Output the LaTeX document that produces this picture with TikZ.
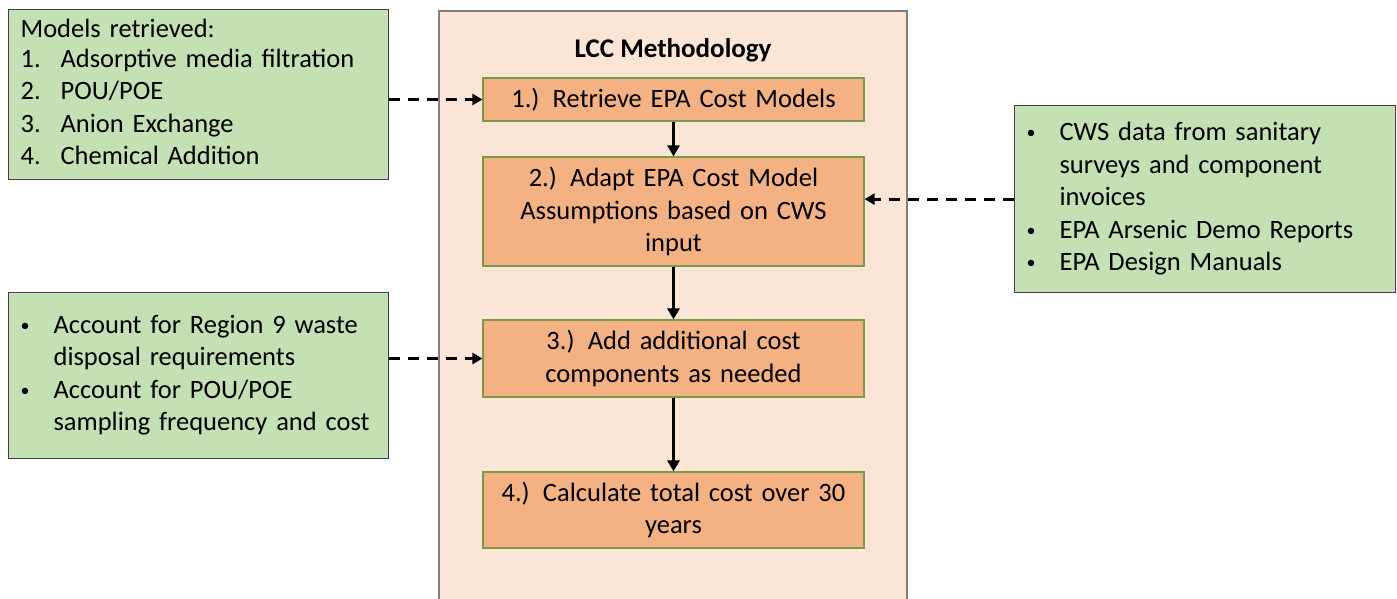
\documentclass[tikz,border=0pt]{standalone}
\usepackage{fontspec}
\setmainfont{Carlito}
\usetikzlibrary{arrows.meta}
\definecolor{greenfill}{HTML}{C5E0B4}
\definecolor{greenborder}{HTML}{404040}
\definecolor{orangefill}{HTML}{F4B183}
\definecolor{orangeborder}{HTML}{7A9A4A}
\definecolor{bigfill}{HTML}{FBE5D6}
\definecolor{bigborder}{HTML}{7F7F7F}
\newcommand{\smallbullet}{\raisebox{2pt}{\fontsize{18}{18}\selectfont •}}
\tikzset{
  greenbox/.style={draw=greenborder, fill=greenfill, line width=1.2pt, rectangle, inner xsep=12pt, inner ysep=0pt, align=left, font=\fontsize{26.5}{32.5}\selectfont},
  stepbox/.style={draw=orangeborder, fill=orangefill, line width=1.2pt, rectangle, minimum width=381pt, text width=370pt, align=center, inner sep=0pt, font=\fontsize{26.5}{32.5}\selectfont},
  flow/.style={line width=2.8pt, -{Triangle[length=11pt,width=12pt]}},
  feed/.style={line width=2.8pt, dash pattern=on 11pt off 8pt, -{Triangle[length=10pt,width=11pt]}}
}
\begin{document}
\begin{tikzpicture}[x=1pt,y=-1pt]
\useasboundingbox (0,0) rectangle (1397,598);
% container
\fill[bigfill] (439,11) rectangle (907,605);
\draw[bigborder, line width=1.2pt] (439,605) -- (439,11) -- (907,11) -- (907,605);
\node[font=\fontsize{27}{32}\selectfont\bfseries] (title) at (673,50) {LCC Methodology};
% steps
\node[stepbox, minimum height=43pt] (b1) at (673.5,99.5) {1.) Retrieve EPA Cost Models};
\node[stepbox, minimum height=109pt] (b2) at (673.5,211.5) {2.) Adapt EPA Cost Model\\Assumptions based on CWS\\input};
\node[stepbox, minimum height=77pt] (b3) at (673.5,358.5) {3.) Add additional cost\\components as needed};
\node[stepbox, minimum height=76pt] (b4) at (673.5,510) {4.) Calculate total cost over 30\\years};
% green boxes
\node[greenbox, text width=356pt, minimum height=170pt, anchor=north west] (g1) at (8,9) {%
\begin{tabular}{@{}l@{}}Models retrieved:\end{tabular}\\[-4pt]
\begin{tabular}{@{}p{40pt}@{}l@{}}
1. & Adsorptive media filtration\\
2. & POU/POE\\
3. & Anion Exchange\\
4. & Chemical Addition
\end{tabular}};
\node[greenbox, text width=357pt, minimum height=187pt, anchor=north west] (g2) at (1014,105) {%
\begin{tabular}{@{}p{33pt}@{}l@{}}
\smallbullet & CWS data from sanitary\\
 & surveys and component\\
 & invoices\\
\smallbullet & EPA Arsenic Demo Reports\\
\smallbullet & EPA Design Manuals
\end{tabular}};
\node[greenbox, text width=356pt, minimum height=166pt, anchor=north west] (g3) at (8,292) {%
\begin{tabular}{@{}p{33pt}@{}l@{}}
\smallbullet & Account for Region 9 waste\\
 & disposal requirements\\
\smallbullet & Account for POU/POE\\
 & sampling frequency and cost
\end{tabular}};
% connectors
\draw[flow] (b1) -- (b2);
\draw[flow] (b2) -- (b3);
\draw[flow] (b3) -- (b4);
\draw[feed] (g1.east |- b1.west) -- (b1.west);
\draw[feed] (g2.west) -- (g2.west -| b2.east);
\draw[feed] (b3.west -| g3.east) -- (b3.west);
\end{tikzpicture}
\end{document}
